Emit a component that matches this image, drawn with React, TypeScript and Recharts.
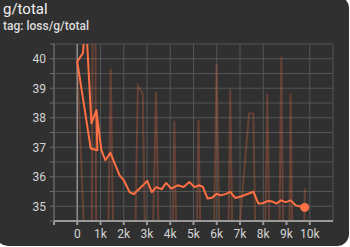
import { CartesianGrid, Line, LineChart, ReferenceLine, XAxis, YAxis } from "recharts";

// smoothed curve, in drawing order (the log restarts, so steps go back once)
const smoothSteps = [
  823, 866, 579, 0, 249, 360, 609, 823, 1037, 1209, 1423, 1822, 2006, 2250, 2422,
  2752, 3009, 3206, 3395, 3635, 3823, 4038, 4321, 4578, 4822, 5036, 5250, 5400,
  5606, 5795, 5992, 6181, 6395, 6580, 6794, 7038, 7578, 7792, 7964, 8221, 8393,
  8581, 8753, 8967, 9181, 9396, 9781,
];
const smoothValues = [
  38.26, 36.9, 36.96, 39.9, 40.2, 41.5, 37.81, 38.26, 36.9, 36.56, 36.81, 36.05,
  35.88, 35.48, 35.41, 35.65, 35.86, 35.48, 35.65, 35.58, 35.79, 35.6, 35.71,
  35.65, 35.82, 35.65, 35.71, 35.66, 35.26, 35.29, 35.42, 35.37, 35.42, 35.49,
  35.28, 35.33, 35.49, 35.09, 35.1, 35.18, 35.16, 35.09, 35.2, 35.14, 35.2,
  35.03, 34.96,
];

// raw values (mostly far outside the visible range)
const rawSteps = [
  0, 600, 720, 840, 1200, 1440, 1680, 2350, 2606, 2820, 3050, 3392, 3650, 3950,
  4176, 4400, 5000, 5216, 5450, 5750, 5992, 6250, 6400, 6580, 6800, 6950, 7390,
  7575, 7800, 7950, 8175, 8400, 8600, 8775, 8950, 9050, 9178, 9350, 9600, 9790,
];
const rawValues = [
  39.9, 28, 55, 28, 27, 39.66, 27, 27, 39.09, 38.81, 27, 38.87, 27, 27, 37.9, 27,
  27, 37.92, 27, 27, 39.81, 27, 27, 38.96, 27, 34.0, 38.14, 38.14, 27, 27, 38.81,
  27, 27, 40.07, 27, 27, 38.83, 27, 27, 35.6,
];

const xTicks = [-1000, 0, 1000, 2000, 3000, 4000, 5000, 6000, 7000, 8000, 9000, 10000];
const yTicks = [34.5, 35, 35.5, 36, 36.5, 37, 37.5, 38, 38.5, 39, 39.5, 40, 40.5];

const smoothData = smoothSteps.map((step, i) => ({ step, value: smoothValues[i] }));
const rawData = rawSteps.map((step, i) => ({ step, value: rawValues[i] }));

const ORANGE = "#ff7043";

function fmtX(v: number) {
  if (v < 0) return "";
  if (v === 0) return "0";
  return `${v / 1000}k`;
}

function fmtY(v: number) {
  return Number.isInteger(v) ? `${v}` : "";
}

export default function App() {
  const last = smoothData.length - 1;
  return (
    <div
      style={{
        position: "fixed",
        left: 0,
        top: 0,
        width: 350,
        height: 247,
        background: "#ffffff",
        overflow: "hidden",
        fontFamily: "Roboto, sans-serif",
      }}
    >
      <div
        style={{
          position: "absolute",
          left: -4,
          top: -4,
          width: 353,
          height: 250,
          background: "#303030",
          borderRadius: 12,
        }}
      />
      <div
        style={{
          position: "absolute",
          left: 3,
          top: 1,
          fontSize: 15,
          color: "#f0f0f0",
          lineHeight: "17px",
        }}
      >
        g/total
      </div>
      <div
        style={{
          position: "absolute",
          left: 3,
          top: 19,
          fontSize: 12,
          fontWeight: 500,
          color: "#dcdcdc",
          lineHeight: "14px",
        }}
      >
        tag: loss/g/total
      </div>
      <div style={{ position: "absolute", left: 0, top: 0 }}>
        <LineChart
          width={350}
          height={247}
          margin={{ top: 44, right: 17, bottom: 0, left: 0 }}
        >
          <CartesianGrid stroke="#545454" strokeWidth={1} />
          <XAxis
            dataKey="step"
            type="number"
            domain={[-1000, 11000]}
            ticks={xTicks}
            tickFormatter={fmtX}
            allowDataOverflow
            height={26}
            tickSize={4}
            tickMargin={4}
            stroke="#9a9a9a"
            strokeWidth={2}
            tick={{ fill: "#d4d4d4", fontSize: 12 }}
          />
          <YAxis
            type="number"
            domain={[34.5, 40.5]}
            ticks={yTicks}
            tickFormatter={fmtY}
            allowDataOverflow
            width={54}
            tickSize={4}
            tickMargin={4}
            stroke="#6e6e6e"
            tick={{ fill: "#d4d4d4", fontSize: 12 }}
          />
          <ReferenceLine x={0} stroke="#8c8c8c" strokeWidth={1.5} />
          <Line
            data={rawData}
            dataKey="value"
            type="linear"
            stroke={ORANGE}
            strokeOpacity={0.26}
            strokeWidth={2}
            dot={false}
            activeDot={false}
            isAnimationActive={false}
          />
          <Line
            data={smoothData}
            dataKey="value"
            type="linear"
            stroke={ORANGE}
            strokeWidth={2}
            strokeLinejoin="round"
            activeDot={false}
            isAnimationActive={false}
            dot={(p: any) =>
              p.index === last ? (
                <circle key="end" cx={p.cx} cy={p.cy} r={4.5} fill={ORANGE} />
              ) : (
                <g key={p.index} />
              )
            }
          />
        </LineChart>
      </div>
    </div>
  );
}
